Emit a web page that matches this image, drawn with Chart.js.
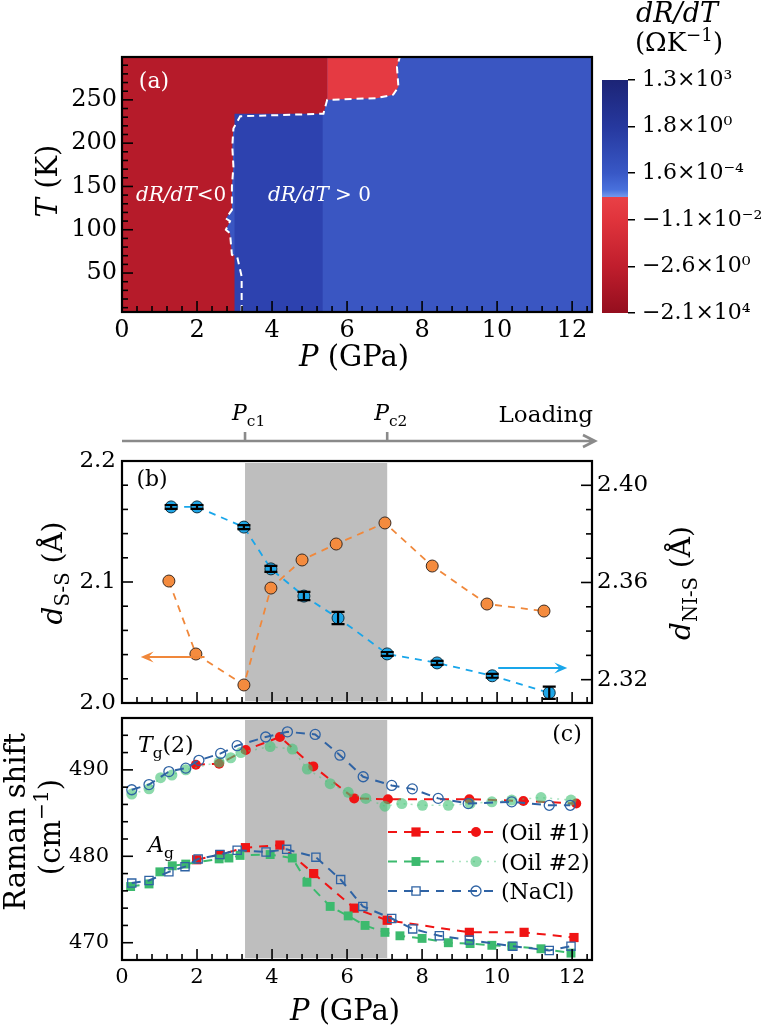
<!DOCTYPE html>
<html>
<head>
<meta charset="utf-8">
<script src="https://cdn.jsdelivr.net/npm/chart.js@4.4.0/dist/chart.umd.min.js"></script>
<style>
  body { margin: 0; background: #fff; }
  #wrap { position: relative; width: 775px; height: 1034px; }
  canvas { position: absolute; left: 0; top: 0; }
</style>
</head>
<body>
<div id="wrap">
  <canvas id="chartA" width="775" height="1034"></canvas>
  <canvas id="chartCB" width="775" height="1034"></canvas>
  <canvas id="chartB" width="775" height="1034"></canvas>
  <canvas id="chartC" width="775" height="1034"></canvas>
</div>
<script>
// ---- panel (a): dR/dT sign boundary (P in GPa, T in K)
const bndP = [3.19, 3.19, 3.07, 2.93, 2.88, 2.77, 2.88, 2.77, 2.93, 2.93, 2.97, 2.94, 2.97, 3.15, 5.37, 5.47, 6.79, 7.23, 7.37, 7.33, 7.41];
const bndT = [5, 46, 69, 71, 96, 100, 110, 113, 123, 150, 173, 196, 217, 231, 234, 250, 252, 256, 265, 288, 300];
const splitIdx = 15;          // light red block starts here
const darkBandP = [3.0, 5.35]; // slightly darker blue strip
const darkBandT = 234;
const cbLabels = ['1.3×10³', '1.8×10⁰', '1.6×10⁻⁴', '−1.1×10⁻²', '−2.6×10⁰', '−2.1×10⁴'];

// ---- panel (b): bond lengths
const pc1 = 3.28, pc2 = 7.07;
const dssP = [1.25, 1.97, 3.25, 3.97, 4.80, 5.71, 7.01, 8.27, 9.73, 11.25];
const dssV = [2.1008, 2.0405, 2.0149, 2.0950, 2.1182, 2.1314, 2.1488, 2.1132, 2.0818, 2.0760];
const dnisP = [1.31, 2.00, 3.25, 3.97, 4.85, 5.76, 7.07, 8.40, 9.87, 11.39];
const dnisV = [2.3911, 2.3911, 2.3828, 2.3656, 2.3544, 2.3454, 2.3306, 2.3269, 2.3216, 2.3146];
const dnisErr = [0.0008, 0.0008, 0.0008, 0.0012, 0.0017, 0.0025, 0.0008, 0.0008, 0.0008, 0.0025];

// ---- panel (c): Raman shifts
const ncTgP = [0.26, 0.72, 1.25, 1.70, 2.05, 2.63, 3.07, 3.83, 4.41, 5.15, 5.81, 6.43, 7.19, 7.74, 8.43, 9.23, 10.39, 11.39, 11.95];
const ncTgV = [487.7, 488.3, 489.8, 490.2, 491.1, 491.9, 492.8, 493.8, 494.4, 494.1, 491.7, 489.2, 488.2, 487.8, 486.7, 486.1, 486.3, 485.9, 485.9];
const o1TgP = [1.97, 2.59, 3.30, 4.21, 5.10, 6.19, 7.09, 9.26, 10.70, 12.11];
const o1TgV = [490.6, 490.7, 492.3, 493.8, 490.4, 486.7, 486.6, 486.6, 486.4, 486.1];
const o2TgP = [0.26, 0.72, 1.03, 1.33, 1.70, 2.59, 2.90, 3.17, 3.95, 4.54, 4.94, 5.55, 6.03, 6.50, 7.01, 7.46, 8.01, 8.70, 9.28, 9.86, 10.39, 11.17, 11.97];
const o2TgV = [487.2, 487.8, 489.1, 489.4, 490.0, 490.9, 491.4, 492.0, 492.7, 492.4, 490.1, 488.4, 487.4, 486.7, 485.8, 486.1, 485.9, 485.9, 486.1, 486.3, 486.5, 486.8, 486.5];
const ncAgP = [0.26, 0.72, 1.25, 1.68, 2.03, 2.61, 3.07, 3.84, 4.39, 5.17, 5.83, 6.42, 7.19, 7.75, 8.46, 9.26, 10.42, 11.39, 11.97];
const ncAgV = [476.9, 477.2, 478.2, 478.8, 479.7, 480.2, 480.7, 480.5, 480.8, 479.9, 477.3, 474.2, 472.8, 471.6, 470.8, 470.3, 469.6, 469.1, 469.6];
const o1AgP = [1.99, 2.61, 3.29, 4.21, 5.11, 6.19, 7.07, 9.26, 10.72, 12.05];
const o1AgV = [479.6, 480.2, 481.0, 481.3, 478.0, 474.0, 472.6, 471.2, 471.2, 470.6];
const o2AgP = [0.23, 0.72, 1.01, 1.34, 1.70, 2.59, 2.85, 3.15, 3.95, 4.54, 4.93, 5.55, 6.03, 6.48, 7.01, 7.41, 8.00, 8.70, 9.28, 9.86, 10.39, 11.17, 11.97];
const o2AgV = [476.5, 476.8, 478.2, 478.9, 479.1, 479.7, 479.8, 480.1, 480.2, 479.8, 477.0, 474.2, 473.1, 472.0, 471.2, 470.8, 470.5, 470.0, 469.9, 469.7, 469.6, 469.3, 468.8];

const FONT = 'DejaVu Serif';
Chart.defaults.font.family = FONT;
Chart.defaults.color = '#000';

const pts = (xs, ys) => xs.map((x, i) => ({x: x, y: ys[i]}));
const isMult = (v, m) => Math.abs(v / m - Math.round(v / m)) < 1e-6;

// rich text: parts = [[text, style]], style n / i / sub / sup
function drawRich(ctx, it) {
  const segs = it.parts.map(p => {
    const small = p[1] === 'sub' || p[1] === 'sup';
    const size = small ? it.size * 0.7 : it.size;
    const font = (p[1] === 'i' ? 'italic ' : '') + size + 'px "' + FONT + '"';
    ctx.font = font;
    const dy = p[1] === 'sub' ? it.size * 0.25 : p[1] === 'sup' ? -it.size * 0.4 : 0;
    return {t: p[0], font: font, w: ctx.measureText(p[0]).width, dy: dy};
  });
  const total = segs.reduce((s, g) => s + g.w, 0);
  ctx.save();
  ctx.translate(it.x, it.y);
  if (it.rot) ctx.rotate(-Math.PI / 2);
  let x0 = it.align === 'left' ? 0 : it.align === 'right' ? -total : -total / 2;
  ctx.fillStyle = it.color || '#000';
  ctx.textBaseline = 'alphabetic';
  segs.forEach(g => { ctx.font = g.font; ctx.fillText(g.t, x0, g.dy); x0 += g.w; });
  ctx.restore();
}

function richText(items) {
  return {id: 'richText', afterDraw(chart) { items.forEach(it => drawRich(chart.ctx, it)); }};
}

// inward ticks + frame
function frameTicks(axes) {
  return {
    id: 'frameTicks',
    afterDatasetsDraw(chart) {
      const ctx = chart.ctx, a = chart.chartArea;
      ctx.save();
      ctx.strokeStyle = '#000';
      ctx.lineWidth = 1.6;
      axes.forEach(ax => {
        const s = chart.scales[ax.id];
        s.ticks.forEach(t => {
          const len = isMult(t.value, ax.major) ? 11 : 6;
          const p = s.getPixelForValue(t.value);
          ctx.beginPath();
          if (ax.side === 'bottom') { ctx.moveTo(p, a.bottom); ctx.lineTo(p, a.bottom - len); }
          else if (ax.side === 'left') { ctx.moveTo(a.left, p); ctx.lineTo(a.left + len, p); }
          else { ctx.moveTo(a.right, p); ctx.lineTo(a.right - len, p); }
          ctx.stroke();
        });
      });
      ctx.lineWidth = 2.2;
      ctx.strokeRect(a.left, a.top, a.right - a.left, a.bottom - a.top);
      ctx.restore();
    }
  };
}

function xAxis(size, show, h, pad) {
  return {
    type: 'linear', min: 0, max: 12.53,
    grid: {display: false, drawTicks: false}, border: {display: false},
    ticks: {display: show, stepSize: 0.4, autoSkip: false, includeBounds: false, maxRotation: 0,
      font: {size: size}, color: '#000', padding: pad,
      callback: v => isMult(v, 2) ? String(Math.round(v)) : ''},
    afterFit: s => { s.height = h; }
  };
}

function yAxis(o) {
  return {
    type: 'linear', position: o.pos || 'left', min: o.min, max: o.max,
    grid: {display: false, drawTicks: false}, border: {display: false},
    ticks: {stepSize: o.step, autoSkip: false, includeBounds: false, font: {size: o.size}, color: '#000', padding: o.pad,
      callback: v => isMult(v, o.major) ? v.toFixed(o.dec) : ''},
    afterFit: s => { s.width = o.w; }
  };
}

// ================= panel (a) =================
const mapBlue = 'rgb(58,86,194)';
const redPoly = [{x: 0, y: 0}].concat(pts(bndP.slice(0, splitIdx + 1), bndT.slice(0, splitIdx + 1)),
  [{x: bndP[splitIdx], y: 310}, {x: 0, y: 310}]);
const lightPoly = pts(bndP.slice(splitIdx), bndT.slice(splitIdx)).concat([{x: bndP[splitIdx], y: 310}]);
const darkPoly = [{x: darkBandP[0], y: 0}, {x: darkBandP[1], y: 0}, {x: darkBandP[1], y: darkBandT}, {x: darkBandP[0], y: darkBandT}];

const mapFill = {
  id: 'mapFill',
  beforeDatasetsDraw(chart) {
    const ctx = chart.ctx, a = chart.chartArea;
    ctx.save();
    ctx.beginPath();
    ctx.rect(a.left, a.top, a.right - a.left, a.bottom - a.top);
    ctx.clip();
    ctx.fillStyle = mapBlue;
    ctx.fillRect(a.left, a.top, a.right - a.left, a.bottom - a.top);
    chart.data.datasets.forEach((ds, i) => {
      if (!ds.polyFill) return;
      const els = chart.getDatasetMeta(i).data;
      ctx.beginPath();
      els.forEach((e, k) => k ? ctx.lineTo(e.x, e.y) : ctx.moveTo(e.x, e.y));
      ctx.closePath();
      ctx.fillStyle = ds.polyFill;
      ctx.fill();
    });
    ctx.restore();
  }
};

new Chart(document.getElementById('chartA'), {
  type: 'scatter',
  data: {datasets: [
    {data: pts(bndP, bndT), showLine: true, borderColor: '#fff', borderWidth: 2, borderDash: [7, 5], pointRadius: 0},
    {data: lightPoly, polyFill: 'rgb(229,58,66)', pointRadius: 0},
    {data: redPoly, polyFill: 'rgb(182,27,42)', pointRadius: 0},
    {data: darkPoly, polyFill: 'rgb(45,66,175)', pointRadius: 0}
  ]},
  options: {
    responsive: false, animation: false,
    layout: {padding: {left: 0, top: 57, right: 183, bottom: 654}},
    plugins: {legend: {display: false}, tooltip: {enabled: false}},
    scales: {
      x: xAxis(24, true, 68, 4),
      y: yAxis({min: 5, max: 299.5, step: 10, major: 50, dec: 0, size: 24, pad: 5, w: 122})
    }
  },
  plugins: [mapFill, frameTicks([{id: 'x', side: 'bottom', major: 2}, {id: 'y', side: 'left', major: 50}]),
    richText([
      {x: 154, y: 88, size: 22, color: '#fff', parts: [['(a)', 'n']]},
      {x: 136, y: 201, size: 20, align: 'left', color: '#fff', parts: [['dR/dT', 'i'], ['<0', 'n']]},
      {x: 268, y: 201, size: 20, align: 'left', color: '#fff', parts: [['dR/dT', 'i'], [' > 0', 'n']]},
      {x: 57, y: 181, size: 29, rot: true, parts: [['T', 'i'], [' (K)', 'n']]},
      {x: 354, y: 366, size: 29, parts: [['P', 'i'], [' (GPa)', 'n']]}
    ])]
});

// ================= colour bar =================
const cbFill = {
  id: 'cbFill',
  beforeDatasetsDraw(chart) {
    const ctx = chart.ctx, a = chart.chartArea;
    const g = ctx.createLinearGradient(0, a.top, 0, a.bottom);
    g.addColorStop(0, 'rgb(28,36,118)');
    g.addColorStop(0.2, 'rgb(38,56,158)');
    g.addColorStop(0.4, 'rgb(56,88,198)');
    g.addColorStop(0.47, 'rgb(72,112,220)');
    g.addColorStop(0.5, 'rgb(112,150,235)');
    g.addColorStop(0.503, 'rgb(233,64,70)');
    g.addColorStop(0.6, 'rgb(224,52,60)');
    g.addColorStop(0.8, 'rgb(192,30,45)');
    g.addColorStop(1, 'rgb(148,14,30)');
    ctx.save();
    ctx.fillStyle = g;
    ctx.fillRect(a.left, a.top, a.right - a.left, a.bottom - a.top);
    ctx.restore();
  }
};

new Chart(document.getElementById('chartCB'), {
  type: 'scatter',
  data: {datasets: []},
  options: {
    responsive: false, animation: false,
    layout: {padding: {left: 602, top: 80, right: 0, bottom: 721}},
    plugins: {legend: {display: false}, tooltip: {enabled: false}},
    scales: {
      x: {display: false, min: 0, max: 1},
      y: {position: 'right', min: 0, max: 5,
        grid: {display: true, drawOnChartArea: false, drawTicks: true, tickLength: 7, color: '#000', lineWidth: 1.5},
        border: {display: false},
        ticks: {stepSize: 1, autoSkip: false, font: {size: 22}, color: '#000', padding: 7, callback: v => cbLabels[5 - v]},
        afterFit: s => { s.width = 147; }}
    }
  },
  plugins: [cbFill, richText([
    {x: 677, y: 22, size: 27, parts: [['dR/dT', 'i']]},
    {x: 679, y: 51, size: 26, parts: [['(ΩK', 'n'], ['−1', 'sup'], [')', 'n']]}
  ])]
});

// ================= panel (b) =================
function grayBand(color) {
  return {
    id: 'grayBand',
    beforeDatasetsDraw(chart) {
      const ctx = chart.ctx, a = chart.chartArea, x = chart.scales.x;
      const x1 = x.getPixelForValue(pc1), x2 = x.getPixelForValue(pc2);
      ctx.save();
      ctx.fillStyle = color;
      ctx.fillRect(x1, a.top + 2, x2 - x1, a.bottom - a.top - 4);
      ctx.restore();
    }
  };
}

function arrow(ctx, x1, y1, x2, y2, color) {
  const ang = Math.atan2(y2 - y1, x2 - x1), L = 14;
  ctx.save();
  ctx.strokeStyle = color; ctx.fillStyle = color; ctx.lineWidth = 2.2;
  ctx.beginPath(); ctx.moveTo(x1, y1); ctx.lineTo(x2 - 6 * Math.cos(ang), y2 - 6 * Math.sin(ang)); ctx.stroke();
  ctx.beginPath();
  ctx.moveTo(x2, y2);
  ctx.lineTo(x2 - L * Math.cos(ang - 0.4), y2 - L * Math.sin(ang - 0.4));
  ctx.lineTo(x2 - 0.55 * L * Math.cos(ang), y2 - 0.55 * L * Math.sin(ang));
  ctx.lineTo(x2 - L * Math.cos(ang + 0.4), y2 - L * Math.sin(ang + 0.4));
  ctx.closePath(); ctx.fill();
  ctx.restore();
}

const orangeArrow = [[2.2, 0.5], 2.038];
const blueArrow = [[10.03, 11.87], 2.3248];

const bExtras = {
  id: 'bExtras',
  afterDatasetsDraw(chart) {
    const ctx = chart.ctx, sx = chart.scales.x, sy = chart.scales.y, sy2 = chart.scales.y2;
    // error bars on d(Ni-S)
    const meta = chart.getDatasetMeta(1);
    ctx.save();
    ctx.strokeStyle = '#000'; ctx.lineWidth = 2.2;
    meta.data.forEach((e, i) => {
      const t = sy2.getPixelForValue(dnisV[i] + dnisErr[i]);
      const b = sy2.getPixelForValue(dnisV[i] - dnisErr[i]);
      ctx.beginPath();
      ctx.moveTo(e.x, t); ctx.lineTo(e.x, b);
      ctx.moveTo(e.x - 6.5, t); ctx.lineTo(e.x + 6.5, t);
      ctx.moveTo(e.x - 6.5, b); ctx.lineTo(e.x + 6.5, b);
      ctx.stroke();
    });
    ctx.restore();
    arrow(ctx, sx.getPixelForValue(orangeArrow[0][0]), sy.getPixelForValue(orangeArrow[1]),
      sx.getPixelForValue(orangeArrow[0][1]), sy.getPixelForValue(orangeArrow[1]), '#f0873a');
    arrow(ctx, sx.getPixelForValue(blueArrow[0][0]), sy2.getPixelForValue(blueArrow[1]),
      sx.getPixelForValue(blueArrow[0][1]), sy2.getPixelForValue(blueArrow[1]), '#19a6ea');
  },
  afterDraw(chart) {
    // loading bar above the panel
    const ctx = chart.ctx, a = chart.chartArea, sx = chart.scales.x;
    const y0 = 441;
    ctx.save();
    ctx.strokeStyle = '#8a8a8a'; ctx.lineWidth = 2.6;
    ctx.beginPath();
    ctx.moveTo(a.left, y0); ctx.lineTo(a.right + 2, y0);
    ctx.moveTo(a.right - 9, y0 - 6); ctx.lineTo(a.right + 3, y0); ctx.lineTo(a.right - 9, y0 + 6);
    [pc1, pc2].forEach(p => {
      const x = sx.getPixelForValue(p);
      ctx.moveTo(x, y0); ctx.lineTo(x, y0 - 9);
    });
    ctx.stroke();
    ctx.restore();
    drawRich(ctx, {x: sx.getPixelForValue(pc1) - 13, y: 420, size: 22, align: 'left', parts: [['P', 'i'], ['c1', 'sub']]});
    drawRich(ctx, {x: sx.getPixelForValue(pc2) - 13, y: 420, size: 22, align: 'left', parts: [['P', 'i'], ['c2', 'sub']]});
    drawRich(ctx, {x: a.right + 1, y: 422, size: 23, align: 'right', parts: [['Loading', 'n']]});
  }
};

new Chart(document.getElementById('chartB'), {
  type: 'scatter',
  data: {datasets: [
    {data: pts(dssP, dssV), yAxisID: 'y', showLine: true, borderColor: '#f0883b', borderWidth: 1.8, borderDash: [7, 6],
      pointRadius: 6, pointBackgroundColor: '#f48b3e', pointBorderColor: '#3a2a20', pointBorderWidth: 1},
    {data: pts(dnisP, dnisV), yAxisID: 'y2', showLine: true, borderColor: '#19a6ea', borderWidth: 1.8, borderDash: [7, 6],
      pointRadius: 6, pointBackgroundColor: '#1ea5e6', pointBorderColor: '#10303f', pointBorderWidth: 1}
  ]},
  options: {
    responsive: false, animation: false,
    layout: {padding: {left: 0, top: 461, right: 0, bottom: 311}},
    plugins: {legend: {display: false}, tooltip: {enabled: false}},
    scales: {
      x: xAxis(20, false, 20, 5),
      y: yAxis({min: 2.0, max: 2.2, step: 0.02, major: 0.1, dec: 1, size: 23, pad: 6, w: 122}),
      y2: yAxis({pos: 'right', min: 2.3104, max: 2.41, step: 0.01, major: 0.04, dec: 2, size: 23, pad: 5, w: 183})
    }
  },
  plugins: [grayBand('#bebebe'), bExtras,
    frameTicks([{id: 'x', side: 'bottom', major: 2}, {id: 'y', side: 'left', major: 0.1}, {id: 'y2', side: 'right', major: 0.04}]),
    richText([
      {x: 152, y: 486, size: 22, parts: [['(b)', 'n']]},
      {x: 62, y: 573, size: 28, rot: true, parts: [['d', 'i'], ['S-S', 'sub'], [' (Å)', 'n']]},
      {x: 690, y: 583, size: 28, rot: true, parts: [['d', 'i'], ['NI-S', 'sub'], [' (Å)', 'n']]}
    ])]
});

// ================= panel (c) =================
const red = '#f01414', green = '#3cba6e', greenLt = 'rgba(70,196,120,0.62)', navy = '#2f63a4';
const dsC = [
  {label: 'NaCl Tg', data: pts(ncTgP, ncTgV), showLine: true, borderColor: navy, borderWidth: 2, borderDash: [9, 7],
    pointStyle: 'circle', pointRadius: 5, pointBackgroundColor: 'rgba(0,0,0,0)', pointBorderColor: navy, pointBorderWidth: 1.3},
  {label: 'NaCl Ag', data: pts(ncAgP, ncAgV), showLine: true, borderColor: navy, borderWidth: 2, borderDash: [9, 7],
    pointStyle: 'rect', pointRadius: 5.8, pointBackgroundColor: 'rgba(0,0,0,0)', pointBorderColor: navy, pointBorderWidth: 1.3},
  {label: 'Oil2 Tg', data: pts(o2TgP, o2TgV), showLine: true, borderColor: 'rgba(70,196,120,0.45)', borderWidth: 1.5, borderDash: [2, 5],
    pointStyle: 'circle', pointRadius: 5.5, pointBackgroundColor: greenLt, pointBorderColor: 'rgba(0,0,0,0)', pointBorderWidth: 0},
  {label: 'Oil2 Ag', data: pts(o2AgP, o2AgV), showLine: true, borderColor: green, borderWidth: 2, borderDash: [9, 7],
    pointStyle: 'rect', pointRadius: 6.3, pointBackgroundColor: green, pointBorderColor: green, pointBorderWidth: 0},
  {label: 'Oil1 Tg', data: pts(o1TgP, o1TgV), showLine: true, borderColor: red, borderWidth: 2, borderDash: [9, 7],
    pointStyle: 'circle', pointRadius: 5, pointBackgroundColor: red, pointBorderColor: red, pointBorderWidth: 0},
  {label: 'Oil1 Ag', data: pts(o1AgP, o1AgV), showLine: true, borderColor: red, borderWidth: 2, borderDash: [9, 7],
    pointStyle: 'rect', pointRadius: 6.5, pointBackgroundColor: red, pointBorderColor: red, pointBorderWidth: 0}
];
const legendRows = [[5, 4, '(Oil #1)'], [3, 2, '(Oil #2)'], [1, 0, '(NaCl)']];

function drawMarker(ctx, ds, x, y) {
  const r = ds.pointRadius;
  ctx.save();
  ctx.setLineDash([]);
  ctx.fillStyle = ds.pointBackgroundColor;
  ctx.strokeStyle = ds.pointBorderColor;
  ctx.lineWidth = ds.pointBorderWidth || 1;
  ctx.beginPath();
  if (ds.pointStyle === 'rect') {
    const h = r * Math.SQRT1_2;
    ctx.rect(x - h, y - h, 2 * h, 2 * h);
  } else {
    ctx.arc(x, y, r, 0, Math.PI * 2);
  }
  ctx.fill();
  if (ds.pointBorderWidth) ctx.stroke();
  ctx.restore();
}

const cLegend = {
  id: 'cLegend',
  afterDraw(chart) {
    const ctx = chart.ctx, dss = chart.data.datasets;
    legendRows.forEach((row, k) => {
      const y = 832 + k * 29.5;
      [[dss[row[0]], 388, 444, 416], [dss[row[1]], 452, 497, 476]].forEach(s => {
        const ds = s[0];
        ctx.save();
        ctx.strokeStyle = ds.borderColor; ctx.lineWidth = ds.borderWidth;
        ctx.setLineDash(ds.borderDash);
        ctx.beginPath(); ctx.moveTo(s[1], y); ctx.lineTo(s[2], y); ctx.stroke();
        ctx.restore();
        drawMarker(ctx, ds, s[3], y);
      });
      drawRich(ctx, {x: 501, y: y + 8, size: 22, align: 'left', parts: [[row[2], 'n']]});
    });
  }
};

new Chart(document.getElementById('chartC'), {
  type: 'scatter',
  data: {datasets: dsC},
  options: {
    responsive: false, animation: false,
    layout: {padding: {left: 0, top: 718, right: 183, bottom: 0}},
    plugins: {legend: {display: false}, tooltip: {enabled: false}},
    scales: {
      x: xAxis(21, true, 74, 5),
      y: yAxis({min: 468, max: 496, step: 2, major: 10, dec: 0, size: 21, pad: 13, w: 122})
    }
  },
  plugins: [grayBand('#bebebe'), cLegend,
    frameTicks([{id: 'x', side: 'bottom', major: 2}, {id: 'y', side: 'left', major: 10}]),
    richText([
      {x: 567, y: 741, size: 22, parts: [['(c)', 'n']]},
      {x: 138, y: 752, size: 22, align: 'left', parts: [['T', 'i'], ['g', 'sub'], ['(2)', 'n']]},
      {x: 148, y: 852, size: 22, align: 'left', parts: [['A', 'i'], ['g', 'sub']]},
      {x: 25, y: 822, size: 29, rot: true, parts: [['Raman shift', 'n']]},
      {x: 60, y: 827, size: 29, rot: true, parts: [['(cm', 'n'], ['−1', 'sup'], [')', 'n']]},
      {x: 345, y: 1020, size: 29, parts: [['P', 'i'], [' (GPa)', 'n']]}
    ])]
});
</script>
</body>
</html>
